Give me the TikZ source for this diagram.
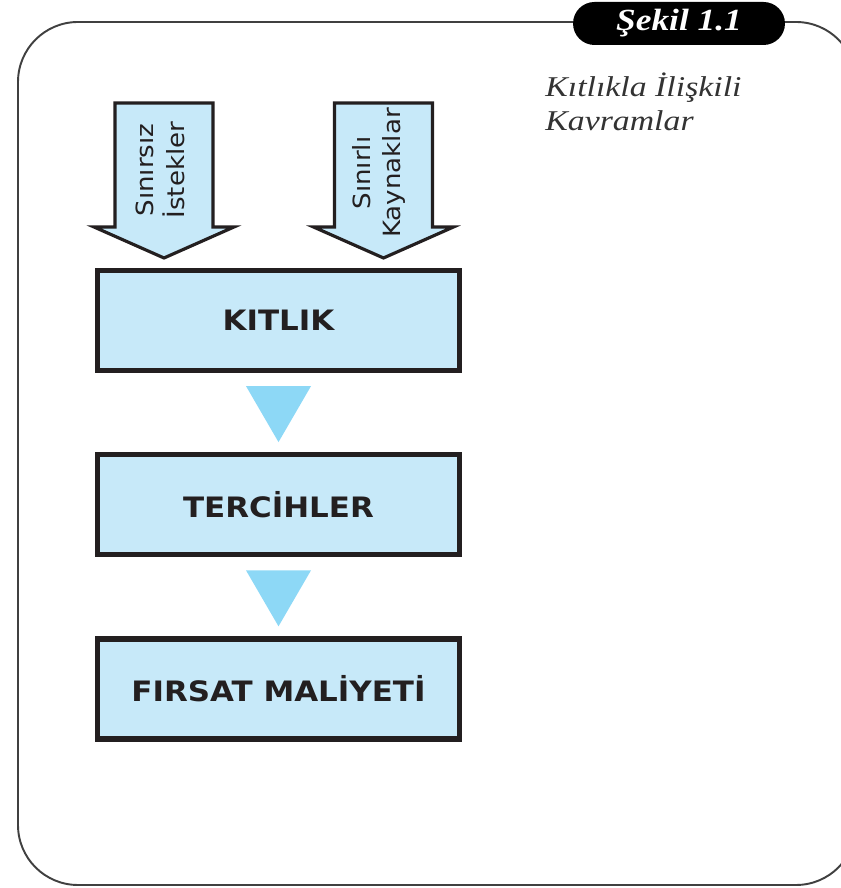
\documentclass[tikz,border=0pt]{standalone}
\usepackage{fontspec}
\setmainfont{Liberation Serif}
\newfontfamily\sekilfont[FakeStretch=1.15]{Liberation Serif}
\newfontfamily\notfont[FakeStretch=1.18]{Liberation Serif}
\newfontfamily\okfont[FakeStretch=1.1]{DejaVu Sans}
\newfontfamily\kutufont[FakeStretch=1.1]{DejaVu Sans}
\usetikzlibrary{positioning,calc}
\definecolor{kutumavi}{RGB}{199,233,249}
\definecolor{ucgenmavi}{RGB}{141,216,246}
\definecolor{yazisiyah}{RGB}{35,31,32}
\tikzset{
  cerceve/.style={draw=black!75, line width=1.1pt, rounded corners=1.2cm},
  etiket/.style={fill=black, rounded corners=0.43cm, minimum width=4.24cm,
    minimum height=0.86cm, text=white,
    font={\sekilfont\bfseries\itshape\fontsize{17.5}{20}\selectfont}},
  kutu/.style={draw=yazisiyah, fill=kutumavi, line width=3pt,
    minimum width=7.24cm, minimum height=2cm, text=yazisiyah,
    font={\kutufont\bfseries\fontsize{16}{18}\selectfont}},
  okblok/.style={draw=yazisiyah, fill=kutumavi, line width=1.8pt},
  okyazi/.style={rotate=90, align=center, inner sep=0pt, text=yazisiyah,
    font={\okfont\fontsize{13.5}{17.5}\selectfont}},
  ucgen/.style={fill=ucgenmavi},
}
\begin{document}
\begin{tikzpicture}[x=0.02cm,y=0.02cm]
  \useasboundingbox (0,0) rectangle (840,888);
  \draw[cerceve] (573,866) -- (18,866) -- (18,3) -- (856,3) -- (856,866) -- (785,866);
  \node[etiket] (sekil) at (679,864.5) {Şekil 1.1};
  \node[anchor=north west, align=left, inner sep=0pt, text=black!80,
    font={\notfont\itshape\fontsize{16.3}{19}\selectfont}] (baslik) at (545,815)
    {Kıtlıkla İlişkili\\Kavramlar};
  \foreach \cx in {164,383.5}
    \draw[okblok] (\cx-49,785) -- (\cx+49,785) -- (\cx+49,661) -- (\cx+70,661)
      -- (\cx,630) -- (\cx-70,661) -- (\cx-49,661) -- cycle;
  \node[okyazi] (istek) at (160,718) {Sınırsız\\İstekler};
  \node[okyazi] (kaynak) at (379,715) {Sınırlı\\Kaynaklar};
  \node[kutu] (kitlik) at (278.5,567.5) {KITLIK};
  \node[kutu, below=1.58cm of kitlik] (tercih) {TERCİHLER};
  \node[kutu, below=1.58cm of tercih] (firsat) {FIRSAT MALİYETİ};
  \foreach \a/\b in {kitlik/tercih,tercih/firsat}
    \fill[ucgen] ($(\a.south)+(-32.5,-13)$) -- ($(\a.south)+(32.5,-13)$)
      -- ($(\b.north)+(0,10)$) -- cycle;
\end{tikzpicture}
\end{document}
